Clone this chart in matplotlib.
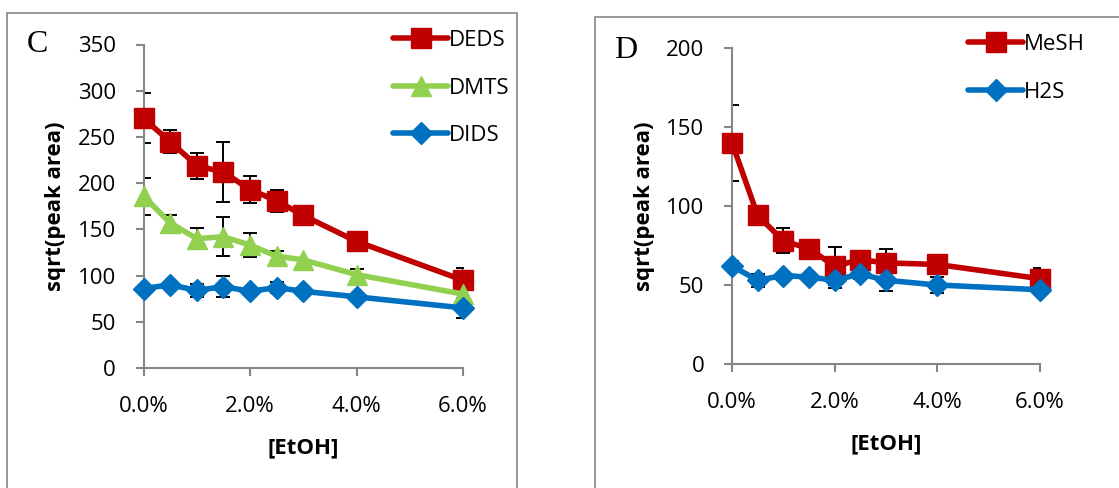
import numpy as np
import matplotlib.pyplot as plt
from matplotlib.patches import Rectangle
from matplotlib.ticker import FuncFormatter

# [EtOH] fraction
etoh = [0.0, 0.005, 0.01, 0.015, 0.02, 0.025, 0.03, 0.04, 0.06]

# panel C
deds = [270, 245, 219, 212, 193, 181, 165, 137, 95]
deds_err = [27, 12, 14, 32, 15, 12, 0, 0, 13]
dmts = [186, 157, 140, 142, 133, 121, 117, 101, 80]
dmts_err = [20, 8, 11, 21, 13, 6, 0, 6, 0]
dids = [86, 90, 84, 88, 83, 87, 83, 77, 65]
dids_err = [0, 0, 7, 11, 0, 6, 0, 0, 11]

# panel D
mesh = [140, 94, 78, 73, 62, 66, 64, 63, 54]
mesh_err = [24, 0, 8, 0, 12, 0, 9, 0, 7]
h2s = [62, 53, 56, 55, 53, 57, 53, 50, 47]
h2s_err = [3, 4, 0, 0, 5, 3, 7, 5, 0]

RED = "#C00000"
GREEN = "#92D050"
BLUE = "#0070C0"
GREY = "#868686"
FS = 16

plt.rcParams["font.family"] = ["Open Sans", "DejaVu Sans"]

fig = plt.figure(figsize=(11.19, 4.88), dpi=100)

# panel frames
fig.patches.append(Rectangle((7 / 1119, -0.1), 510 / 1119, 1 - 13 / 488 + 0.1,
                             transform=fig.transFigure, fill=False,
                             edgecolor=GREY, lw=1.2))
fig.patches.append(Rectangle((595 / 1119, -0.1), 0.5, 1 - 17 / 488 + 0.1,
                             transform=fig.transFigure, fill=False,
                             edgecolor=GREY, lw=1.2))

axC = fig.add_axes([143.5 / 1119, 1 - 368 / 488, 319.5 / 1119, 323.5 / 488])
axD = fig.add_axes([732 / 1119, 1 - 364 / 488, 308 / 1119, 316 / 488])

pct = FuncFormatter(lambda v, p: f"{v * 100:.1f}%")


def draw(ax, y, err, color, marker, ms, label):
    ax.errorbar(etoh, y, yerr=err, fmt="none", ecolor="black", elinewidth=1.4,
                capsize=5, capthick=1.4, zorder=2)
    ax.plot(etoh, y, color=color, lw=4, marker=marker, ms=ms,
            solid_capstyle="round", label=label, zorder=3, clip_on=False)


def style(ax, ymax, ystep):
    ax.set_xlim(0, 0.06)
    ax.set_ylim(0, ymax)
    ax.set_xticks([0, 0.02, 0.04, 0.06])
    ax.set_yticks(np.arange(0, ymax + 1, ystep))
    ax.xaxis.set_major_formatter(pct)
    for s in ["top", "right"]:
        ax.spines[s].set_visible(False)
    for s in ["left", "bottom"]:
        ax.spines[s].set_color(GREY)
        ax.spines[s].set_linewidth(1.5)
    ax.tick_params(colors=GREY, labelcolor="black", labelsize=FS,
                   length=6, width=1.5, direction="out")
    ax.tick_params(axis="x", pad=14)
    ax.tick_params(axis="y", pad=14)
    ax.set_xlabel("[EtOH]", fontsize=FS, fontweight="bold", labelpad=15)
    ax.set_ylabel("sqrt(peak area)", fontsize=FS, fontweight="bold", labelpad=8)


draw(axC, deds, deds_err, RED, "s", 15, "DEDS")
draw(axC, dmts, dmts_err, GREEN, "^", 14, "DMTS")
draw(axC, dids, dids_err, BLUE, "D", 11, "DIDS")
style(axC, 350, 50)

draw(axD, mesh, mesh_err, RED, "s", 15, "MeSH")
draw(axD, h2s, h2s_err, BLUE, "D", 11, "H2S")
style(axD, 200, 50)

axC.legend(loc="upper left", bbox_to_anchor=(384 / 1119, 1 - 21 / 488),
           bbox_transform=fig.transFigure, frameon=False, fontsize=FS,
           handlelength=2.5, handletextpad=0.0, labelspacing=1.2,
           numpoints=1, borderaxespad=0)
axD.legend(loc="upper left", bbox_to_anchor=(959 / 1119, 1 - 25 / 488),
           bbox_transform=fig.transFigure, frameon=False, fontsize=FS,
           handlelength=2.5, handletextpad=0.0, labelspacing=1.2,
           numpoints=1, borderaxespad=0)

fig.text(27 / 1119, 1 - 45 / 488, "C", family="Liberation Serif", fontsize=23,
         va="center", ha="left")
fig.text(614 / 1119, 1 - 50 / 488, "D", family="Liberation Serif", fontsize=23,
         va="center", ha="left")

fig.savefig("out.png", dpi=100)
